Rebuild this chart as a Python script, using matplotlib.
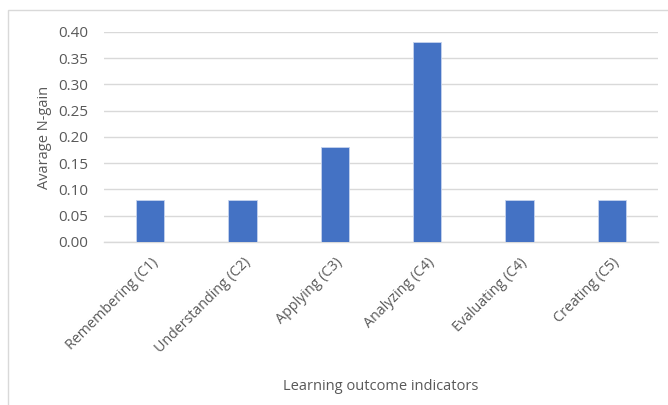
import matplotlib
matplotlib.use("Agg")
from matplotlib import pyplot as plt
from matplotlib.patches import Rectangle
import numpy as np

categories = ["Remembering (C1)", "Understanding (C2)", "Applying (C3)",
              "Analyzing (C4)", "Evaluating (C4)", "Creating (C5)"]
n_gain = [0.08, 0.08, 0.18, 0.38, 0.08, 0.08]
y_ticks = [0.00, 0.05, 0.10, 0.15, 0.20, 0.25, 0.30, 0.35, 0.40]

plt.rcParams['font.family'] = ['Open Sans', 'DejaVu Sans']
text_color = "#595959"

fig = plt.figure(figsize=(6.68, 4.05), dpi=100)
ax = fig.add_axes([0.1557, 0.4025, 0.8293, 0.5185])

# light frame around the chart area, like the Excel chart border
fig.patches.append(Rectangle((8 / 668, -0.05), 1.0, 1 - 10 / 405 + 0.05,
                             transform=fig.transFigure, fill=False,
                             edgecolor="#d9d9d9", linewidth=1.0))

x = np.arange(len(categories))
ax.bar(x, n_gain, width=0.31, color="#4472C4", edgecolor="#c5d3ee",
       linewidth=0.6, zorder=3)

ax.set_xlim(-0.5, len(categories) - 0.5)
ax.set_ylim(0, 0.40)
ax.set_yticks(y_ticks)
ax.set_yticklabels([f"{v:.2f}" for v in y_ticks])
ax.grid(axis='y', color="#d9d9d9", linewidth=1.0, zorder=0)

for s in ['top', 'right', 'left']:
    ax.spines[s].set_visible(False)
ax.spines['bottom'].set_color("#d9d9d9")
ax.spines['bottom'].set_linewidth(1.0)

ax.tick_params(left=False, bottom=False, colors=text_color)
ax.tick_params(axis='y', labelsize=11, pad=8)
ax.tick_params(axis='x', labelsize=10.3, pad=6)
ax.set_xticks(x)
ax.set_xticklabels(categories, rotation=45, ha='right', rotation_mode='anchor')

ax.set_ylabel("Avarage N-gain", color=text_color, fontsize=10.5, labelpad=4)
ax.set_xlabel("Learning outcome indicators", color=text_color, fontsize=10.5, labelpad=16)

fig.savefig("out.png", dpi=100)
